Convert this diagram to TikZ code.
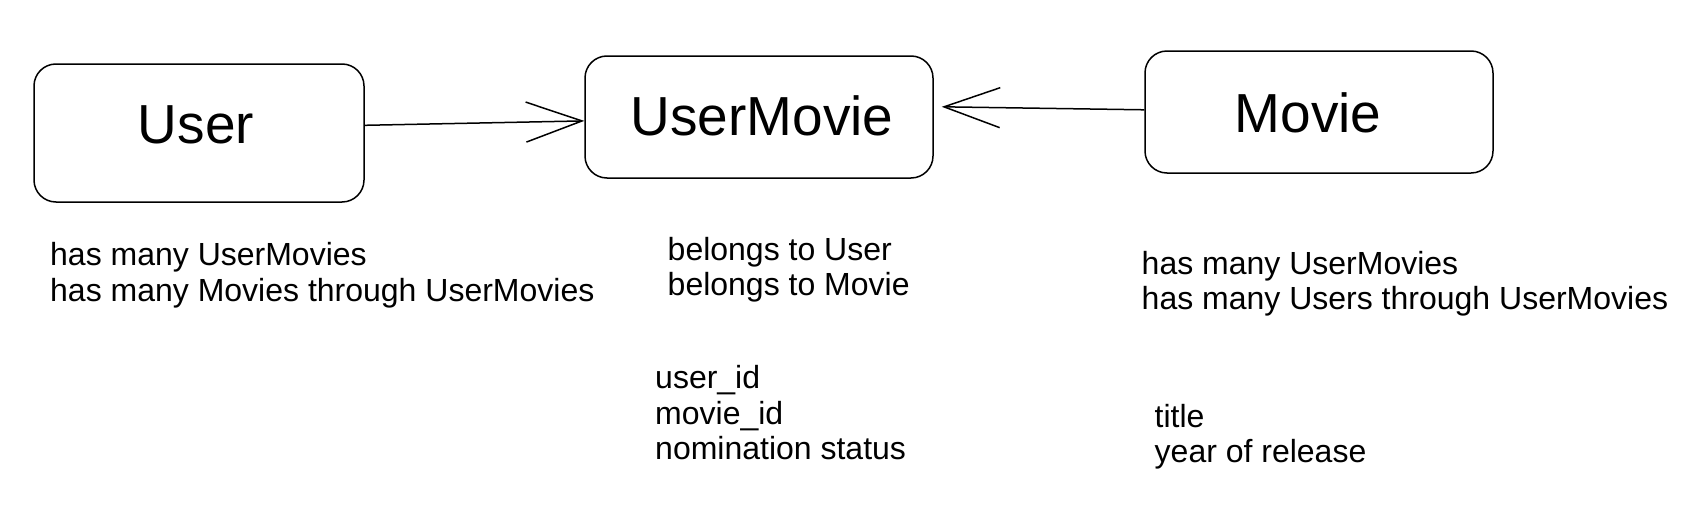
\documentclass[tikz,border=0pt]{standalone}
\usepackage{fontspec}
\setmainfont{Liberation Sans}
\usetikzlibrary{arrows.meta}
\begin{document}
\begin{tikzpicture}[x=1pt,y=-1pt,
  entity/.style={draw=black,line width=1.5pt,rounded corners=22pt,inner sep=0pt,fill=white},
  titletext/.style={anchor=base,inner sep=0pt,font=\fontsize{55}{60}\selectfont},
  note/.style={anchor=base west,inner sep=0pt,font=\fontsize{32}{36}\selectfont},
  link/.style={line width=1.5pt,-{Straight Barb[length=56pt,width=40pt,line width=1.5pt]}}]
\useasboundingbox (0,0) rectangle (1700,522);
\fill[white] (0,0) rectangle (1700,522);
% boxes
\node[entity,minimum width=330pt,minimum height=138pt] (user) at (199,133) {};
\node[entity,minimum width=348pt,minimum height=122pt] (um) at (759,117) {};
\node[entity,minimum width=348pt,minimum height=122pt] (movie) at (1319,112) {};
% titles
\node[titletext] (usert) at (196,143) {User};
\node[titletext] (umt) at (762,135.5) {UserMovie};
\node[titletext] (moviet) at (1308,132) {Movie};
% connectors
\draw[link] ([yshift=7.7pt]user.east) -- ([yshift=-3.9pt]um.west);
\draw[link] ([yshift=2.2pt]movie.west) -- ([xshift=8pt,yshift=10.2pt]um.east);
% User notes
\node[note] (u1) at (50,265.5) {has many UserMovies};
\node[note] (u2) at (50,301) {has many Movies through UserMovies};
% UserMovie notes
\node[note] (um1) at (667.5,260) {belongs to User};
\node[note] (um2) at (667.5,295.8) {belongs to Movie};
\node[note] (f1) at (655,388.5) {user\_id};
\node[note] (f2) at (655,424.3) {movie\_id};
\node[note] (f3) at (655,459.2) {nomination status};
% Movie notes
\node[note] (m1) at (1141.5,274) {has many UserMovies};
\node[note] (m2) at (1141.5,309.5) {has many Users through UserMovies};
\node[note] (t1) at (1154.5,427) {title};
\node[note] (t2) at (1154.5,462.5) {year of release};
\end{tikzpicture}
\end{document}
